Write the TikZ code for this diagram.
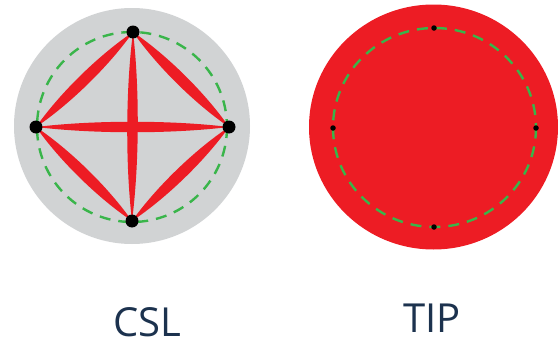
\documentclass[tikz,border=0pt]{standalone}
\usepackage{fontspec}
\setmainfont{Open Sans}
\usetikzlibrary{calc}
\definecolor{lensred}{RGB}{237,28,36}
\definecolor{discgray}{RGB}{209,211,212}
\definecolor{dashgreen}{RGB}{57,181,74}
\definecolor{labelnavy}{RGB}{28,50,78}
\tikzset{
  bigdot/.style={circle,fill=black,inner sep=0pt,minimum size=13pt},
  smalldot/.style={circle,fill=black,inner sep=0pt,minimum size=5.5pt},
  ring/.style={draw=dashgreen,line width=2.4pt,dash pattern=on 11pt off 8pt},
  lbl/.style={anchor=base,text=labelnavy,font=\fontsize{40}{48}\selectfont,inner sep=0pt,text depth=0pt},
}
\newcommand\lensfill[3]{%
  \fill[lensred] (#1) .. controls ($(#1)!0.3!(#2)!#3!90:(#2)$) and ($(#1)!0.7!(#2)!#3!90:(#2)$) .. (#2)
     .. controls ($(#2)!0.3!(#1)!#3!90:(#1)$) and ($(#2)!0.7!(#1)!#3!90:(#1)$) .. (#1) -- cycle;}
\begin{document}
\begin{tikzpicture}[x=1pt,y=-1pt]
\useasboundingbox (0,0) rectangle (558,343);
% left disc
\fill[discgray] (132,126) circle[radius=118];
\draw[ring] (132,127) circle[radius=95];
\coordinate (ct) at (133,32);
\coordinate (cl) at (36,127);
\coordinate (cr) at (229,127);
\coordinate (cb) at (132,221);
\lensfill{ct}{cl}{7.5pt}
\lensfill{cl}{cb}{7.5pt}
\lensfill{cb}{cr}{7.5pt}
\lensfill{cr}{ct}{7.5pt}
\lensfill{ct}{cb}{7pt}
\lensfill{cl}{cr}{7pt}
\node[bigdot] (dct) at (ct) {};
\node[bigdot] (dcl) at (cl) {};
\node[bigdot] (dcr) at (cr) {};
\node[bigdot] (dcb) at (cb) {};
% right disc
\fill[lensred] (433.5,127) ellipse[x radius=124.5,y radius=122.5];
\draw[ring] (434.5,127.5) ellipse[x radius=101.5,y radius=99.5];
\node[smalldot] (tt) at (434,28) {};
\node[smalldot] (tl) at (333,128) {};
\node[smalldot] (tr) at (536,128) {};
\node[smalldot] (tb) at (434,227) {};
% labels
\node[lbl] (csl) at (147,336) {CSL};
\node[lbl] (tip) at (432,332) {TIP};
\end{tikzpicture}
\end{document}
